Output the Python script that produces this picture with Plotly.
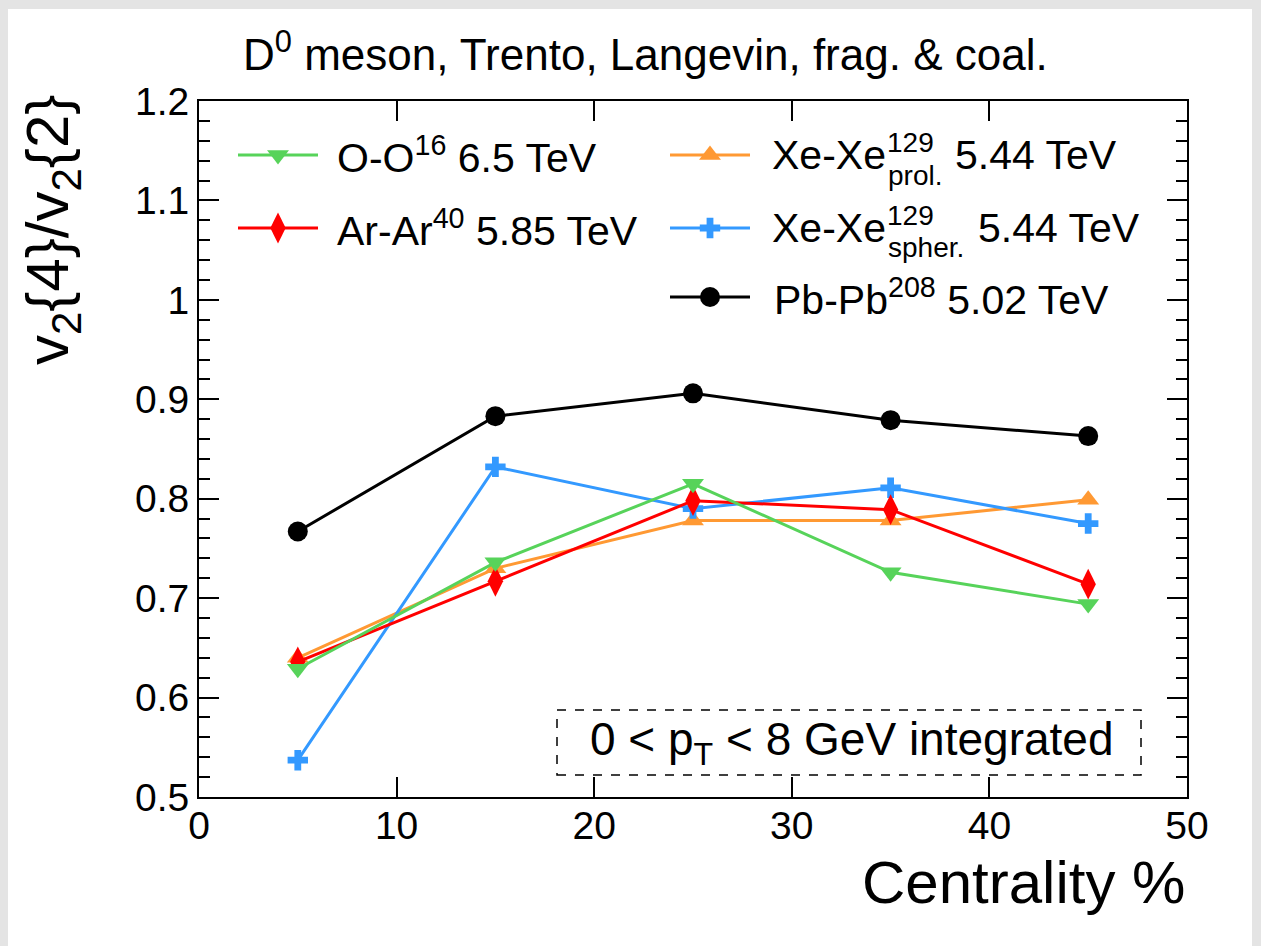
import plotly.graph_objects as go

# ---- data: v2{4}/v2{2} of D0 mesons vs centrality ----
centrality = [5, 15, 25, 35, 45]

oo_16 = [0.629, 0.736, 0.815, 0.726, 0.694]
arar_40 = [0.636, 0.717, 0.798, 0.789, 0.714]
xexe_prol = [0.640, 0.730, 0.778, 0.778, 0.799]
xexe_spher = [0.537, 0.832, 0.790, 0.811, 0.775]
pbpb_208 = [0.767, 0.883, 0.906, 0.879, 0.863]

x_ticks = [0, 10, 20, 30, 40, 50]
y_ticks = [0.5, 0.6, 0.7, 0.8, 0.9, 1.0, 1.1, 1.2]
y_tick_text = ["0.5", "0.6", "0.7", "0.8", "0.9", "1", "1.1", "1.2"]

GREEN = "#57d35a"
RED = "#ff0000"
ORANGE = "#ff9933"
BLUE = "#3399ff"
BLACK = "#000000"

FONT = "Liberation Sans, Arial, Helvetica, sans-serif"

# figure geometry (pixels)
W, H = 1261, 946
L, R, T, B = 199, 74, 101, 149
PW, PH = W - L - R, H - T - B


def px(x):
    return (x - L) / PW


def py(y):
    return (H - B - y) / PH


series = [
    (xexe_prol, ORANGE, "triangle-up", 19, 3),
    (xexe_spher, BLUE, "cross", 17, 3),
    (arar_40, RED, "diamond-tall", 22, 3),
    (oo_16, GREEN, "triangle-down", 19, 3),
    (pbpb_208, BLACK, "circle", 20, 3),
]

fig = go.Figure()
for vals, col, sym, size, lw in series:
    fig.add_trace(go.Scatter(
        x=centrality, y=vals, mode="lines+markers",
        line=dict(color=col, width=lw),
        marker=dict(symbol=sym, size=size, color=col, line=dict(width=0)),
        showlegend=False, cliponaxis=False,
    ))

# ---- legend glyphs on an overlay axis spanning the plot area ----
legend_rows = [
    (238, 318, 155, GREEN, "triangle-down", 19),
    (238, 318, 228, RED, "diamond-tall", 22),
    (670, 750, 155, ORANGE, "triangle-up", 19),
    (670, 750, 228, BLUE, "cross", 17),
    (670, 750, 297, BLACK, "circle", 20),
]
for x0, x1, yy, col, sym, size in legend_rows:
    fig.add_trace(go.Scatter(
        x=[px(x0), px(x1)], y=[py(yy), py(yy)], mode="lines",
        line=dict(color=col, width=3), xaxis="x3", yaxis="y3",
        showlegend=False, hoverinfo="skip",
    ))
    fig.add_trace(go.Scatter(
        x=[px((x0 + x1) / 2)], y=[py(yy)], mode="markers",
        marker=dict(symbol=sym, size=size, color=col, line=dict(width=0)),
        xaxis="x3", yaxis="y3", showlegend=False, hoverinfo="skip",
    ))

annotations = []


def text(x, y, s, size=41, xanchor="left", yanchor="middle", angle=0):
    annotations.append(dict(
        x=px(x), y=py(y), xref="paper", yref="paper", text=s,
        showarrow=False, xanchor=xanchor, yanchor=yanchor, textangle=angle,
        font=dict(family=FONT, size=size, color="black"),
    ))


# legend labels
text(335, 155, "O-O<sup>16</sup> 6.5 TeV")
text(335, 228, "Ar-Ar<sup>40</sup> 5.85 TeV")
text(770, 155, "Xe-Xe")
text(885, 143, "129", size=28)
text(886, 176, "prol.", size=28)
text(953, 155, "5.44 TeV")
text(770, 228, "Xe-Xe")
text(885, 215, "129", size=28)
text(886, 247, "spher.", size=28)
text(976, 228, "5.44 TeV")
text(772, 297, "Pb-Pb<sup>208</sup> 5.02 TeV")

# title, axis titles, kinematic box label
text(645, 52, "D<sup>0</sup> meson, Trento, Langevin, frag. &amp; coal.", size=44,
     xanchor="center")
text(1187, 882, "Centrality %", size=60, xanchor="right")
text(52, 93, "v<sub>2</sub>{4}/v<sub>2</sub>{2}", size=60, xanchor="center",
     yanchor="top", angle=-90)
text(851, 742, "0 &lt; p<sub>T</sub> &lt; 8 GeV integrated", size=46,
     xanchor="center")

shapes = [
    # white canvas on grey page
    dict(type="rect", xref="paper", yref="paper",
         x0=px(8), x1=px(1252), y0=py(H + 5), y1=py(9),
         fillcolor="white", line=dict(width=0), layer="below"),
    # dashed frame around kinematic label
    dict(type="rect", xref="paper", yref="paper",
         x0=px(557), x1=px(1141), y0=py(775), y1=py(710),
         line=dict(color="black", width=1.5, dash="dash"),
         fillcolor="rgba(0,0,0,0)"),
]

axis_common = dict(
    showline=True, linecolor="black", linewidth=2, mirror="allticks",
    ticks="inside", ticklen=20, tickwidth=1.5, tickcolor="black",
    showgrid=False, zeroline=False,
    tickfont=dict(family=FONT, size=39, color="black"),
)

fig.update_layout(
    width=W, height=H,
    margin=dict(l=L, r=R, t=T, b=B, pad=0),
    paper_bgcolor="#e4e4e4", plot_bgcolor="rgba(0,0,0,0)",
    xaxis=dict(range=[0, 50], tickvals=x_ticks, ticktext=[str(v) for v in x_ticks],
               ticklabelstandoff=-7, **axis_common),
    yaxis=dict(range=[0.5, 1.2], tickvals=y_ticks, ticktext=y_tick_text,
               minor=dict(dtick=0.02, ticks="inside", ticklen=11,
                          tickcolor="black", tickwidth=1.5, showgrid=False),
               **axis_common),
    xaxis3=dict(overlaying="x", range=[0, 1], visible=False),
    yaxis3=dict(overlaying="y", range=[0, 1], visible=False),
    annotations=annotations,
    shapes=shapes,
    showlegend=False,
)

fig.write_html("out.html")
